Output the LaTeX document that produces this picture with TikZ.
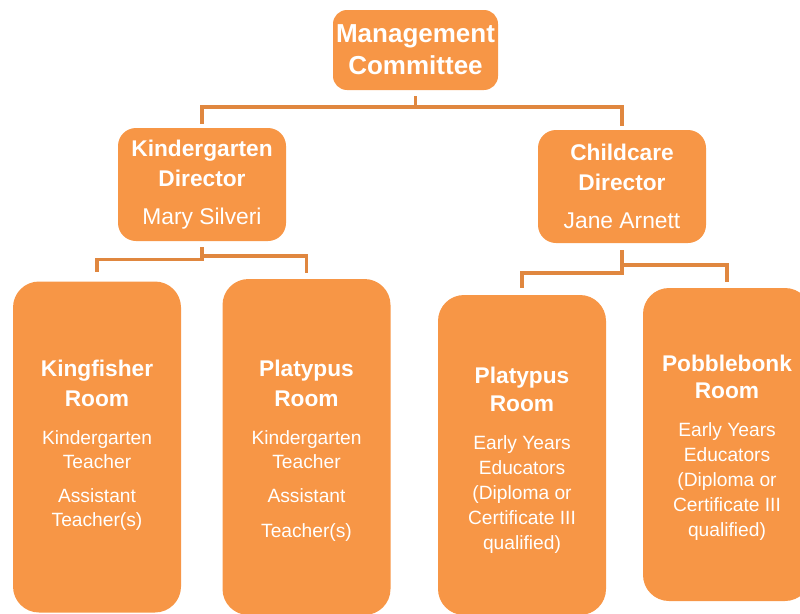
\documentclass[tikz,border=0pt]{standalone}
\usepackage{fontspec}
\setmainfont{Liberation Sans}
\definecolor{boxorange}{RGB}{247,150,70}
\definecolor{linkorange}{RGB}{224,135,63}
\newcommand{\boxhead}[1]{{\fontsize{22.7}{27}\selectfont\bfseries #1}}
\tikzset{
  orgbox/.style={fill=boxorange, text=white, align=center, inner sep=0pt,
    font=\fontsize{19.2}{24}\selectfont},
  dirbox/.style={orgbox, rounded corners=18pt, minimum width=168pt, minimum height=113pt},
  roombox/.style={fill=boxorange, rounded corners=26pt, minimum width=168pt},
  roomtext/.style={text=white, align=center, inner sep=0pt, font=\fontsize{19.2}{#1}\selectfont},
  roomtext/.default=24,
  link/.style={draw=linkorange, line width=3.6pt}
}
\begin{document}
\begin{tikzpicture}[x=1pt,y=-1pt]
                \useasboundingbox (0,0) rectangle (800,613);
                \node (mgmt) at (415.5,50) [orgbox, rounded corners=14pt, minimum width=165pt, minimum height=80pt, font=\fontsize{26}{32}\selectfont\bfseries] {Management\\Committee};
                \node (kdir) at (202,184.5) [dirbox] {\boxhead{Kindergarten}\\[6pt]\boxhead{Director}\\[14pt]{\fontsize{22.8}{27}\selectfont Mary Silveri}};
                \node (cdir) at (622,186.5) [dirbox] {\boxhead{Childcare}\\[6pt]\boxhead{Director}\\[14pt]{\fontsize{22.8}{27}\selectfont Jane Arnett}};
                \node (king) at (97,447) [roombox, minimum height=331pt] {};
                \node (platl) at (306.5,447) [roombox, minimum height=336pt] {};
                \node (platr) at (522,455) [roombox, minimum height=320pt] {};
                \node (pobb) at (727,444.5) [roombox, minimum height=313pt] {};
                \node (kingtxt) at ([yshift=2pt]king) [roomtext] {\boxhead{Kingfisher}\\[6pt]\boxhead{Room}\\[14pt]Kindergarten\\Teacher\\[10pt]Assistant\\Teacher(s)};
                \node (platltxt) at ([yshift=-4pt]platl) [roomtext] {\boxhead{Platypus}\\[6pt]\boxhead{Room}\\[14pt]Kindergarten\\Teacher\\[10pt]Assistant\\[11pt]Teacher(s)};
                \node (platrtxt) at ([yshift=-5.5pt]platr) [roomtext=25] {\boxhead{Platypus}\\[3pt]\boxhead{Room}\\[13pt]Early Years\\Educators\\(Diploma or\\Certificate III\\qualified)};
                \node (pobbtxt) at ([yshift=-3pt]pobb) [roomtext=25] {\boxhead{Pobblebonk}\\[2pt]\boxhead{Room}\\[13pt]Early Years\\Educators\\(Diploma or\\Certificate III\\qualified)};
                \draw[link] ([yshift=-6pt]mgmt.south) -- ([yshift=-17pt]mgmt.south);
                \draw[link] ([yshift=4pt]kdir.north) |- ([yshift=-17pt]mgmt.south) -| ([yshift=4pt]cdir.north);
                \draw[link] ([yshift=-6pt]kdir.south) |- ([yshift=22pt]king.north) -- ([yshift=9pt]king.north);
                \draw[link] ([yshift=-15pt]kdir.south) -| ([yshift=6pt]platl.north);
                \draw[link] ([yshift=-7pt]cdir.south) |- ([yshift=22pt]platr.north) -- ([yshift=7pt]platr.north);
                \draw[link] ([yshift=-22pt]cdir.south) -| ([yshift=6pt]pobb.north);
            \end{tikzpicture}
\end{document}
